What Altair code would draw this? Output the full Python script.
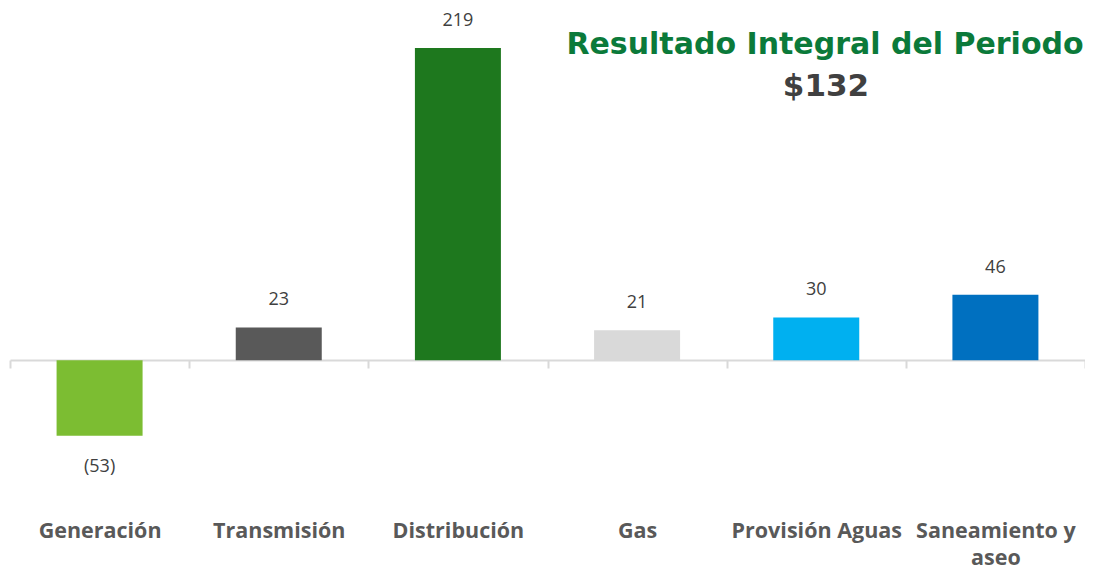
import altair as alt
import pandas as pd

categories = ["Generación", "Transmisión", "Distribución", "Gas", "Provisión Aguas", "Saneamiento y aseo"]
values = [-53, 23, 219, 21, 30, 46]
colors = ["#7cbd32", "#595959", "#1e781e", "#d9d9d9", "#00b0f0", "#0070c0"]
title_text = "Resultado Integral del Periodo"
total_text = "$132"

df = pd.DataFrame({"cat": categories, "val": values})
df["label"] = [f"({abs(v)})" if v < 0 else str(v) for v in values]

x = alt.X("cat:N", sort=categories, title=None,
          scale=alt.Scale(paddingInner=0, paddingOuter=0),
          axis=alt.Axis(labelAngle=0, tickBand="extent", offset=-157, labelPadding=152,
                        domainColor="#d9d9d9", domainWidth=2, tickColor="#d9d9d9", tickWidth=2,
                        tickSize=8, labelFont="Open Sans", labelFontSize=21.5,
                        labelFontWeight="bold", labelColor="#595959", labelLineHeight=27,
                        labelExpr="datum.label == 'Saneamiento y aseo' ? ['Saneamiento y', 'aseo'] : datum.label"))
y = alt.Y("val:Q", scale=alt.Scale(domain=[-110, 245], nice=False, zero=False), axis=None)

base = alt.Chart(df)
bars = base.mark_bar(width=alt.RelativeBandSize(0.48)).encode(
    x=x, y=y, y2=alt.datum(0),
    color=alt.Color("cat:N", scale=alt.Scale(domain=categories, range=colors), legend=None),
)
pos = base.transform_filter("datum.val >= 0").mark_text(
    dy=-27, fontSize=18, font="Open Sans", color="#404040").encode(x=x, y=y, text="label:N")
neg = base.transform_filter("datum.val < 0").mark_text(
    dy=31, fontSize=18, font="Open Sans", color="#404040").encode(x=x, y=y, text="label:N")

title = alt.Chart(pd.DataFrame({"t": [title_text]})).mark_text(
    font="DejaVu Sans", fontWeight="bold", fontSize=30, color="#0b7a3a").encode(
    x=alt.value(815), y=alt.value(34), text="t:N")
total = alt.Chart(pd.DataFrame({"t": [total_text]})).mark_text(
    font="DejaVu Sans", fontWeight="bold", fontSize=31, color="#404040").encode(
    x=alt.value(816), y=alt.value(76), text="t:N")

chart = alt.layer(bars, pos, neg, title, total).properties(
    width=1075, height=506,
    autosize=alt.AutoSizeParams(type="none"),
    padding={"left": 2, "top": 3, "right": 0, "bottom": 54},
).configure_view(stroke=None)

chart.save("out.html", embed_options={"renderer": "svg", "actions": False})
